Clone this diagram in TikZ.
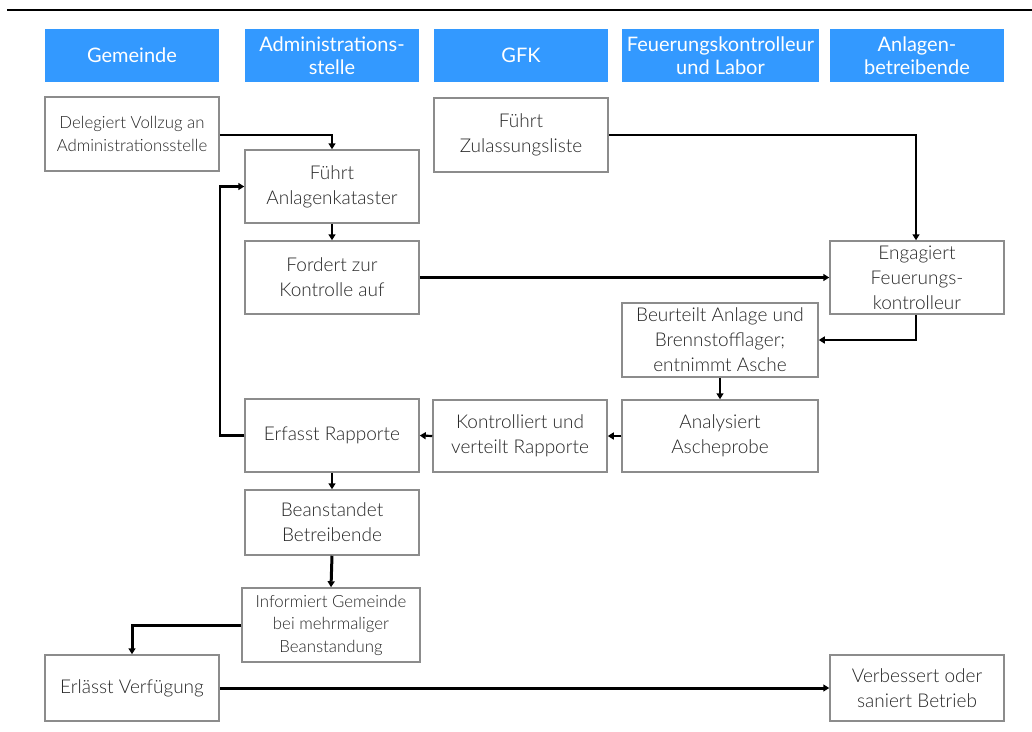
\documentclass[tikz,border=0pt]{standalone}
\usepackage{fontspec}
\setmainfont{Lato}[UprightFont=* Light, BoldFont=*]
\newfontfamily\hdrfont{Lato}
\usetikzlibrary{arrows.meta}
\definecolor{hdr}{HTML}{3399FF}
\definecolor{frame}{HTML}{8C8C8C}
\definecolor{ink}{HTML}{262626}

\begin{document}
\begin{tikzpicture}[x=1pt,y=-1pt,
  hdrbox/.style={fill=hdr, text=white, minimum width=174pt, minimum height=53pt,
    inner sep=0pt, align=center, font=\hdrfont\fontsize{20}{23}\selectfont},
  stepbox/.style={draw=frame, line width=1.5pt, fill=white, text=ink,
    minimum width=174pt, inner sep=0pt, align=center,
    font=\fontsize{19}{25}\selectfont},
  smalltext/.style={font=\fontsize{16.8}{22.5}\selectfont},
  flow/.style={draw=black, line width=2.2pt, -{Triangle[length=6pt,width=7pt]}},
  heavy/.style={line width=3pt},
]
\useasboundingbox (0,0) rectangle (1032,731);
\fill[white] (0,0) rectangle (1032,731);

% rule under the title
\draw[line width=2pt] (7,10) -- (1032,10);

% column headers
\node[hdrbox] (hGem) at (132,55.5) {Gemeinde};
\node[hdrbox] (hAdm) at (332,55.5) {Administrations-\\stelle};
\node[hdrbox] (hGFK) at (521,55.5) {GFK};
\node[hdrbox, minimum width=197pt] (hFeu) at (720.5,55.5) {Feuerungskontrolleur\\und Labor};
\node[hdrbox] (hAnl) at (917,55.5) {Anlagen-\\betreibende};

% process steps
\node[stepbox, smalltext, minimum height=74pt] (delegiert) at (132,134) {Delegiert Vollzug an\\Administrationsstelle};
\node[stepbox, minimum height=73pt] (kataster) at (332,186.5) {Führt\\Anlagenkataster};
\node[stepbox, minimum height=73pt] (fordert) at (332,277.5) {Fordert zur\\Kontrolle auf};
\node[stepbox, minimum height=74pt] (zulassung) at (521,135) {Führt\\Zulassungsliste};
\node[stepbox, minimum height=73pt] (engagiert) at (917,277.5) {Engagiert\\Feuerungs-\\kontrolleur};
\node[stepbox, minimum width=196pt, minimum height=74pt] (beurteilt) at (720,340) {Beurteilt Anlage und\\Brennstofflager;\\entnimmt Asche};
\node[stepbox, minimum width=196pt, minimum height=72pt] (analysiert) at (720,436) {Analysiert\\Ascheprobe};
\node[stepbox, minimum height=72pt] (kontrolliert) at (520,436) {Kontrolliert und\\verteilt Rapporte};
\node[stepbox, minimum height=73pt] (erfasst) at (332,435.5) {Erfasst Rapporte};
\node[stepbox, minimum height=65pt] (beanstandet) at (332,522.5) {Beanstandet\\Betreibende};
\node[stepbox, smalltext, minimum width=178pt, minimum height=74pt] (informiert) at (331,625) {Informiert Gemeinde\\bei mehrmaliger\\Beanstandung};
\node[stepbox, minimum height=66pt] (erlaesst) at (132,688) {Erlässt Verfügung};
\node[stepbox, minimum height=66pt] (verbessert) at (917,688) {Verbessert oder\\saniert Betrieb};

% feedback corridor left of the administration column
\coordinate (loop) at (220,186.5);

% connectors
\draw[flow] ([yshift=-1pt]delegiert.east) -| (kataster.north);
\draw[flow] (kataster.south) -- (fordert.north);
\draw[flow] (zulassung.east) -| ([xshift=-1pt]engagiert.north);
\draw[flow] (fordert.east) -- (engagiert.west);
\draw[flow] ([xshift=-1pt]engagiert.south) |- (beurteilt.east);
\draw[flow] (beurteilt.south) -- (analysiert.north);
\draw[flow] (analysiert.west) -- (kontrolliert.east);
\draw[flow] (kontrolliert.west) -- (erfasst.east);
\draw[flow] (erfasst.west) -| (loop) -- (kataster.west);
\draw[flow] (erfasst.south) -- (beanstandet.north);
\draw[flow, heavy] (beanstandet.south) -- (informiert.north);
\draw[flow, heavy] (informiert.west) -| (erlaesst.north);
\draw[flow, heavy] (erlaesst.east) -- (verbessert.west);
\end{tikzpicture}
\end{document}
